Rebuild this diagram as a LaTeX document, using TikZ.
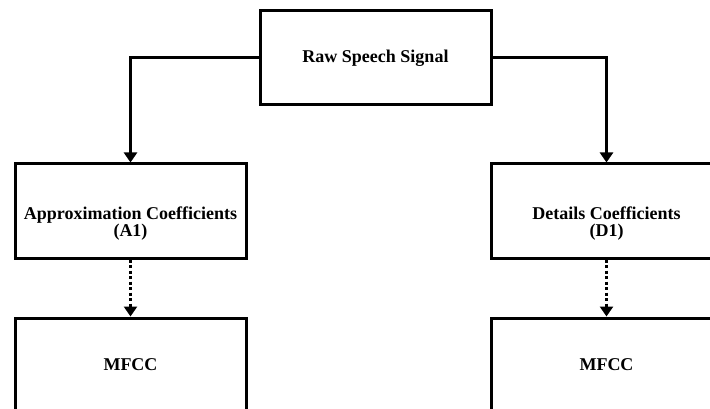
\documentclass[tikz,border=0pt]{standalone}
\usepackage{fontspec}
\setmainfont{Liberation Serif}
\usepackage{tikz}
\usetikzlibrary{arrows.meta}
\usetikzlibrary{calc}

\tikzset{
    blocktext/.style={align=center, inner sep=0pt, font=\bfseries\fontsize{18}{17}\selectfont},
    blockbox/.style={blocktext, draw, line width=3pt, minimum width=231pt, minimum height=94pt},
    flowline/.style={line width=3pt, -{Triangle[length=10pt,width=13pt]}},
    dotline/.style={flowline, line cap=butt, dash pattern=on 3pt off 2.5pt}
}

\begin{document}
\begin{tikzpicture}[x=1pt, y=-1pt]
                \useasboundingbox (0,0) rectangle (710,409);
                \clip (0,0) rectangle (710,409);
                % Signal and first level
                \node[blockbox] (raw) at (375.5,58) {Raw Speech Signal};
                \node[blockbox] (approx) at (130.5,211) {};
                \node[blockbox] (detail) at (606.5,211) {};
                \node[blocktext] (approxtext) at ($(approx.center)+(0,13)$) {Approximation Coefficients\\(A1)};
                \node[blocktext] (detailtext) at ($(detail.center)+(0,13)$) {Details Coefficients\\(D1)};
                % Features
                \node[blockbox] (mfccA) at (130.5,365) {MFCC};
                \node[blockbox] (mfccD) at (606.5,365) {MFCC};
                \draw[flowline] (raw.west) -| (approx.north);
                \draw[flowline] (raw.east) -| (detail.north);
                \draw[dotline] (approx.south) -- (mfccA.north);
                \draw[dotline] (detail.south) -- (mfccD.north);
            \end{tikzpicture}
\end{document}
